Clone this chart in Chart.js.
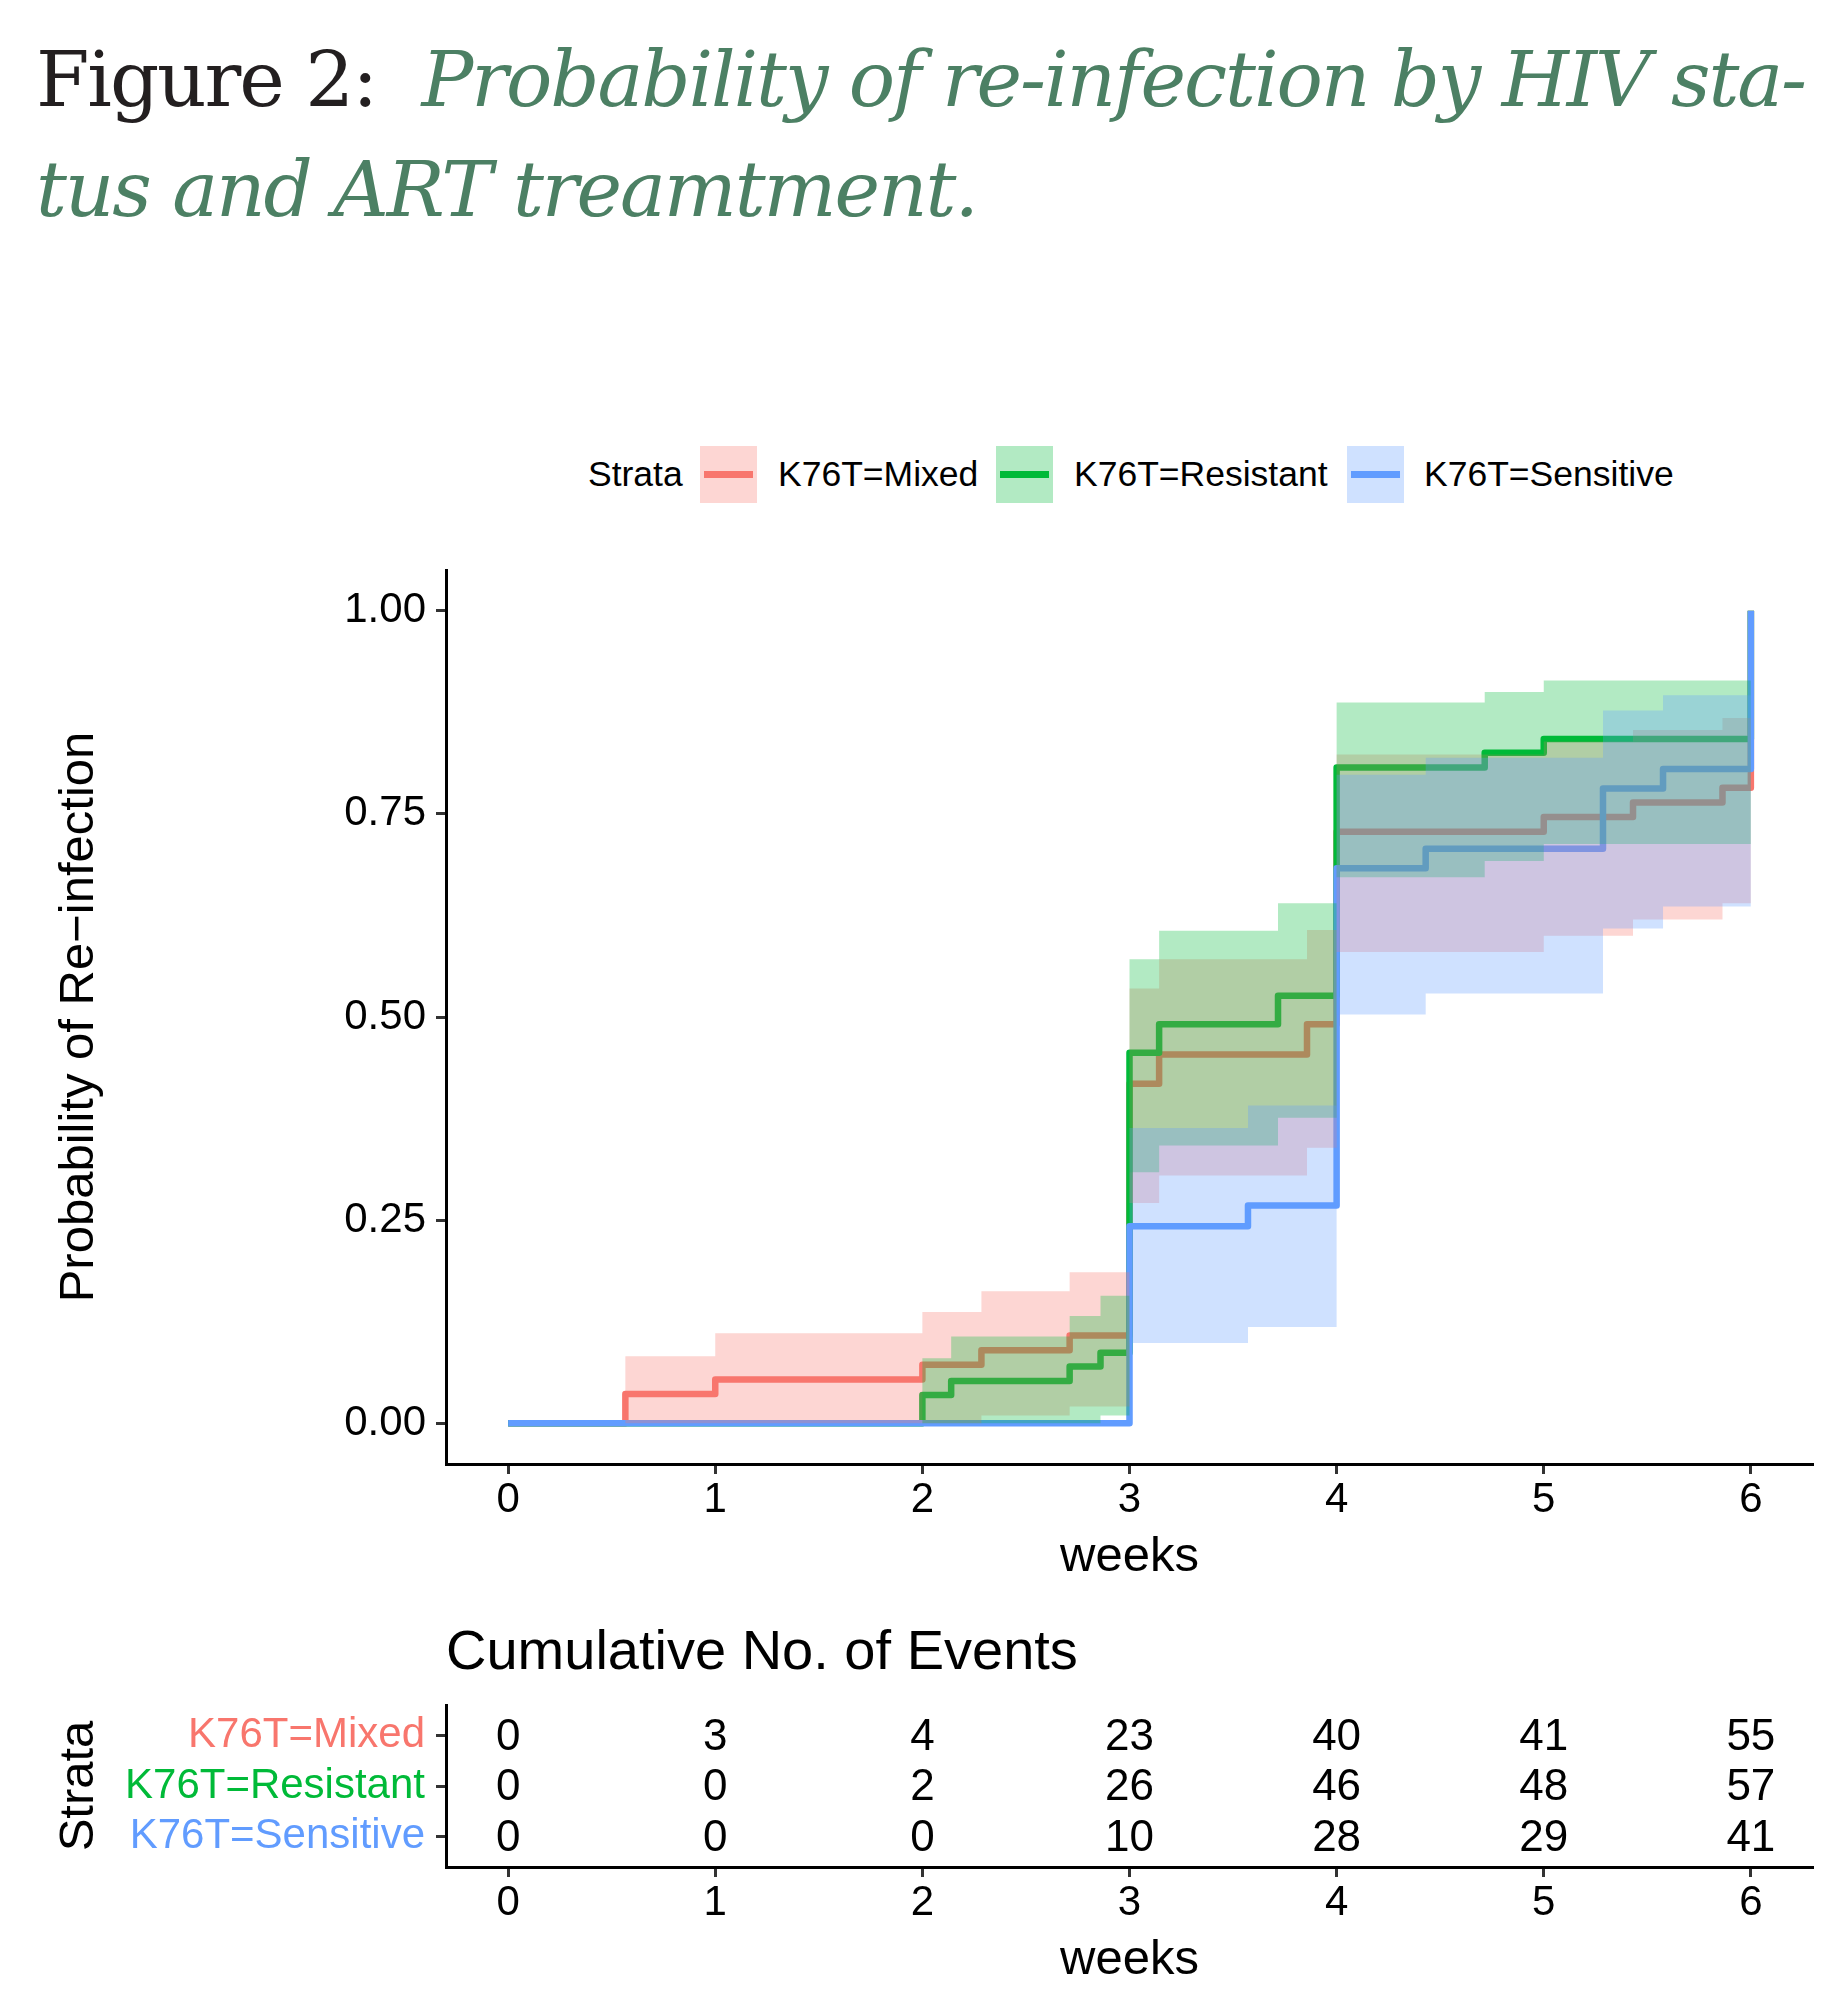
<!DOCTYPE html>
<html>
<head>
<meta charset="utf-8">
<script src="https://cdn.jsdelivr.net/npm/chart.js@4.4.1/dist/chart.umd.min.js"></script>
<style>
  html, body { margin: 0; padding: 0; background: #fff; }
  body { width: 1842px; height: 2004px; position: relative; overflow: hidden; }
  canvas { position: absolute; left: 0; }
  #title { position: absolute; left: 36px; top: 27px; font-family: 'DejaVu Serif', 'Liberation Serif', serif;
           font-size: 77px; line-height: 110px; white-space: nowrap; color: #231f20; }
  #title .g { color: #4c8064; font-style: italic; }
  .sans { font-family: 'Liberation Sans', Arial, sans-serif; position: absolute; white-space: nowrap; color: #000; }
  .lg { font-size: 35.5px; line-height: 57px; top: 446px; }
  .key { position: absolute; top: 446px; width: 57px; height: 57px; }
  .key div { position: absolute; left: 4px; top: 25px; width: 49px; height: 7px; }
  #riskTitle { left: 446px; top: 1615px; font-size: 56px; line-height: 70px; }
</style>
</head>
<body>
<div id="title"><span id="l1">Figure 2:<span class="g" style="margin-left:0.3em"> Probability of re-infection by HIV sta-</span></span><br><span class="g">tus and ART treamtment.</span></div>

<div class="sans lg" style="left:588px">Strata</div>
<div class="key" style="left:700px;background:rgba(248,118,109,0.3)"><div style="background:#F8766D"></div></div>
<div class="sans lg" style="left:778px">K76T=Mixed</div>
<div class="key" style="left:996px;background:rgba(0,186,56,0.3)"><div style="background:#00BA38"></div></div>
<div class="sans lg" style="left:1074px">K76T=Resistant</div>
<div class="key" style="left:1347px;background:rgba(97,156,255,0.3)"><div style="background:#619CFF"></div></div>
<div class="sans lg" style="left:1424px">K76T=Sensitive</div>

<canvas id="main" width="1842" height="1100" style="top:500px;width:1842px;height:1100px"></canvas>
<canvas id="risk" width="1842" height="404" style="top:1600px;width:1842px;height:404px"></canvas>
<div id="riskTitle" class="sans">Cumulative No. of Events</div>

<script>
// ---------------- data ----------------
const xTicks = [0, 1, 2, 3, 4, 5, 6];
const yTicks = [0, 0.25, 0.5, 0.75, 1.0];
const strataNames = ['K76T=Mixed', 'K76T=Resistant', 'K76T=Sensitive'];
const strataColors = ['#F8766D', '#00BA38', '#619CFF'];
const strataFills = ['rgba(248,118,109,0.3)', 'rgba(0,186,56,0.3)', 'rgba(97,156,255,0.3)'];

const mixedTime  = [0, 0.566, 1.0, 2.0, 2.285, 2.711, 3.0, 3.143, 3.857, 4.0, 5.0, 5.431, 5.863, 6.0];
const mixedEst   = [0, 0.036, 0.054, 0.072, 0.090, 0.108, 0.418, 0.454, 0.491, 0.728, 0.746, 0.764, 0.782, 1.0];
const mixedUpper = [0, 0.0825, 0.111, 0.137, 0.1625, 0.186, 0.535, 0.571, 0.607, 0.823, 0.839, 0.853, 0.868, 0.868];
const mixedLower = [0, 0, 0, 0, 0.0098, 0.0209, 0.271, 0.305, 0.339, 0.580, 0.600, 0.620, 0.640, 0.640];

const resistantTime  = [0, 2.0, 2.139, 2.711, 2.86, 3.0, 3.143, 3.717, 4.0, 4.715, 5.0, 6.0];
const resistantEst   = [0, 0.035, 0.052, 0.070, 0.087, 0.456, 0.491, 0.526, 0.807, 0.825, 0.842, 1.0];
const resistantUpper = [0, 0.080, 0.107, 0.132, 0.157, 0.571, 0.606, 0.640, 0.887, 0.900, 0.914, 0.914];
const resistantLower = [0, 0, 0, 0, 0.0098, 0.309, 0.342, 0.376, 0.672, 0.692, 0.713, 0.713];

const sensitiveTime  = [0, 3.0, 3.572, 4.0, 4.430, 5.286, 5.576, 6.0];
const sensitiveEst   = [0, 0.2425, 0.268, 0.683, 0.707, 0.781, 0.805, 1.0];
const sensitiveUpper = [0, 0.3635, 0.391, 0.798, 0.819, 0.877, 0.896, 0.896];
const sensitiveLower = [0, 0.099, 0.1186, 0.503, 0.529, 0.609, 0.636, 0.636];

const riskTimes = [0, 1, 2, 3, 4, 5, 6];
const riskMixed     = [0, 3, 4, 23, 40, 41, 55];
const riskResistant = [0, 0, 2, 26, 46, 48, 57];
const riskSensitive = [0, 0, 0, 10, 28, 29, 41];
const riskRows = [3, 2, 1]; // Mixed top, Sensitive bottom

// ---------------- title fitting ----------------
(function fitTitle() {
  const title = document.getElementById('title');
  const l1 = document.getElementById('l1');
  const fs = 77;
  title.style.fontSize = fs + 'px';
  const n = l1.textContent.length;
  const w = l1.getBoundingClientRect().width;
  if (w > 0 && n > 0) {
    const ls = (1769 - w) / n;
    title.style.letterSpacing = ls.toFixed(2) + 'px';
  }
  const base = (110 - 1.164 * fs) / 2 + 0.928 * fs;
  title.style.top = (106.7 - base).toFixed(1) + 'px';
})();

// ---------------- chart ----------------
Chart.defaults.font.family = "'Liberation Sans', Arial, sans-serif";
Chart.defaults.color = '#000';

function pts(t, v) { return t.map((x, i) => ({ x: x, y: v[i] })); }

const bands = [
  [sensitiveTime, sensitiveUpper, sensitiveLower, 2, 1],
  [resistantTime, resistantUpper, resistantLower, 1, 2],
  [mixedTime, mixedUpper, mixedLower, 0, 3]
];
const datasets = [];
bands.forEach(([t, hi, lo, ci, ord]) => {
  const idx = datasets.length;
  datasets.push({ data: pts(t, hi), stepped: true, borderWidth: 0, borderColor: 'rgba(0,0,0,0)',
                  backgroundColor: strataFills[ci], fill: idx + 1, pointRadius: 0, order: ord });
  datasets.push({ data: pts(t, lo), stepped: true, borderWidth: 0, borderColor: 'rgba(0,0,0,0)',
                  fill: false, pointRadius: 0, order: ord });
});
const lines = [
  [sensitiveTime, sensitiveEst, 2, 4],
  [resistantTime, resistantEst, 1, 5],
  [mixedTime, mixedEst, 0, 6]
];
lines.forEach(([t, v, ci, ord]) => {
  datasets.push({ data: pts(t, v), stepped: true, borderWidth: 6.5, borderColor: strataColors[ci],
                  borderJoinStyle: 'round', borderCapStyle: 'butt', fill: false, pointRadius: 0, order: ord });
});

function xScale() {
  return {
    type: 'linear', min: -0.3, max: 6.3,
    afterBuildTicks: s => { s.ticks = xTicks.map(v => ({ value: v })); },
    afterFit: s => { s.height = 122.4; },
    grid: { drawOnChartArea: false, drawTicks: true, tickLength: 10, tickWidth: 3, tickColor: '#333' },
    border: { display: true, color: '#000', width: 3 },
    ticks: { color: '#000', font: { size: 42 }, padding: 1, maxRotation: 0, autoSkip: false,
             callback: v => String(v) },
    title: { display: true, text: 'weeks', color: '#000', font: { size: 49 }, padding: { top: 0, bottom: 0 } }
  };
}

new Chart(document.getElementById('main'), {
  type: 'line',
  data: { datasets: datasets },
  options: {
    responsive: false, animation: false, events: [],
    layout: { padding: { left: 0, right: 29, top: 70, bottom: 13.6 } },
    plugins: { legend: { display: false }, tooltip: { enabled: false }, filler: { propagate: false } },
    scales: {
      x: xScale(),
      y: {
        type: 'linear', min: -0.05, max: 1.05,
        afterBuildTicks: s => { s.ticks = yTicks.map(v => ({ value: v })); },
        afterFit: s => { s.width = 446; },
        grid: { drawOnChartArea: false, drawTicks: true, tickLength: 10, tickWidth: 3, tickColor: '#333' },
        border: { display: true, color: '#000', width: 3 },
        ticks: { color: '#000', font: { size: 42 }, padding: 10, callback: v => Number(v).toFixed(2) },
        title: { display: true, text: 'Probability of Re\u2212infection', color: '#000', font: { size: 49 },
                 padding: { top: 49.6, bottom: 0 } }
      }
    }
  }
});

// ---------------- risk table ----------------
const riskSeries = [riskMixed, riskResistant, riskSensitive];
const riskDatasets = riskSeries.map((vals, i) => ({
  data: riskTimes.map(t => ({ x: t, y: riskRows[i] })),
  counts: vals, pointRadius: 0, showLine: false
}));

const riskLabelPlugin = {
  id: 'riskLabels',
  afterDatasetsDraw(chart) {
    const ctx = chart.ctx;
    ctx.save();
    ctx.font = "44px 'Liberation Sans', Arial, sans-serif";
    ctx.fillStyle = '#000';
    ctx.textAlign = 'center';
    ctx.textBaseline = 'middle';
    chart.data.datasets.forEach((ds, i) => {
      chart.getDatasetMeta(i).data.forEach((el, j) => {
        ctx.fillText(String(ds.counts[j]), el.x, el.y + 2);
      });
    });
    ctx.restore();
  }
};

new Chart(document.getElementById('risk'), {
  type: 'scatter',
  data: { datasets: riskDatasets },
  plugins: [riskLabelPlugin],
  options: {
    responsive: false, animation: false, events: [],
    layout: { padding: { left: 0, right: 29, top: 105, bottom: 14.6 } },
    plugins: { legend: { display: false }, tooltip: { enabled: false } },
    scales: {
      x: xScale(),
      y: {
        type: 'linear', min: 0.4, max: 3.6,
        afterBuildTicks: s => { s.ticks = [1, 2, 3].map(v => ({ value: v })); },
        afterFit: s => { s.width = 446; },
        grid: { drawOnChartArea: false, drawTicks: true, tickLength: 10, tickWidth: 3, tickColor: '#333' },
        border: { display: true, color: '#000', width: 3 },
        ticks: {
          font: { size: 42 }, padding: 11,
          color: c => strataColors[riskRows.indexOf(c.tick ? c.tick.value : 0)] || '#000',
          callback: v => strataNames[riskRows.indexOf(v)]
        },
        title: { display: true, text: 'Strata', color: '#000', font: { size: 49 }, padding: { top: 49.6, bottom: 0 } }
      }
    }
  }
});
</script>
</body>
</html>
